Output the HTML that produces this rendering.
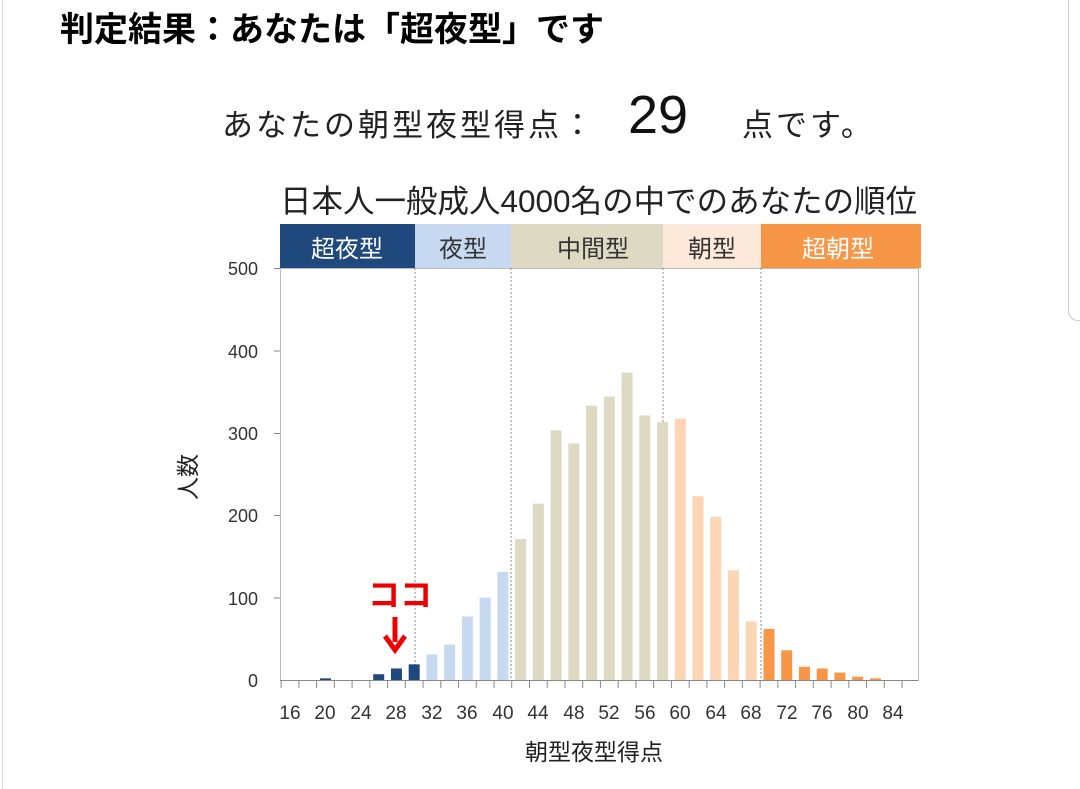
<!DOCTYPE html>
<html><head><meta charset="utf-8">
<style>
html,body{margin:0;padding:0;background:#fff;}
body{width:1080px;height:789px;overflow:hidden;position:relative;font-family:"Liberation Sans","Noto Sans CJK JP",sans-serif;}
.t{position:absolute;white-space:nowrap;color:#000;}
</style></head><body>
<div style="position:absolute;left:2px;top:0;width:1px;height:789px;background:#ddd"></div>
<div style="position:absolute;left:1068px;top:0;width:12px;height:320px;border-left:1px solid #ccc;border-bottom:1px solid #ccc;border-bottom-left-radius:10px"></div>
<div class="t" style="left:60px;top:2px;font-size:34px;font-weight:bold;letter-spacing:0px">判定結果：あなたは「超夜型」です</div>
<div class="t" style="left:222px;top:100px;font-size:31px;letter-spacing:3px;color:#222">あなたの朝型夜型得点：</div>
<div class="t" style="left:628px;top:84px;font-size:54px;color:#111">29</div>
<div class="t" style="left:742px;top:100px;font-size:31px;letter-spacing:3px;color:#222">点です。</div>
<div class="t" style="left:280px;top:176px;font-size:31.5px;color:#222">日本人一般成人4000名の中でのあなたの順位</div>
<svg id="s" width="1080" height="789" style="position:absolute;left:0;top:0" font-family="Liberation Sans, Noto Sans CJK JP, sans-serif">
<rect x="280" y="224" width="135" height="44" fill="#1f497d"/>
<rect x="415" y="224" width="96" height="44" fill="#c6d9f0"/>
<rect x="511" y="224" width="152" height="44" fill="#ddd9c3"/>
<rect x="663" y="224" width="98" height="44" fill="#fde9d9"/>
<rect x="761" y="224" width="160" height="44" fill="#f79646"/>
<g font-size="24" text-anchor="middle">
<text x="347" y="257" fill="#fff">超夜型</text>
<text x="463" y="257" fill="#333">夜型</text>
<text x="593" y="257" fill="#333">中間型</text>
<text x="712" y="257" fill="#333">朝型</text>
<text x="838" y="257" fill="#fff">超朝型</text>
</g>
<rect x="280.5" y="268.5" width="638" height="412" fill="none" stroke="#bbb"/>
<g stroke="#888" stroke-dasharray="2,2">
<line x1="415" y1="268" x2="415" y2="680"/><line x1="511" y1="268" x2="511" y2="680"/>
<line x1="663" y1="268" x2="663" y2="680"/><line x1="761" y1="268" x2="761" y2="680"/>
</g>
<g id="bars"></g>
<line x1="280" y1="680.5" x2="918" y2="680.5" stroke="#888"/>
<g id="ticks" stroke="#888"></g>
<g stroke="#888"><line x1="274" y1="268.5" x2="280" y2="268.5"/><line x1="274" y1="351" x2="280" y2="351"/><line x1="274" y1="433.5" x2="280" y2="433.5"/><line x1="274" y1="515.5" x2="280" y2="515.5"/><line x1="274" y1="598" x2="280" y2="598"/></g>
<g font-size="18" text-anchor="end" fill="#333">
<text x="258" y="275">500</text><text x="258" y="358">400</text><text x="258" y="440">300</text><text x="258" y="522">200</text><text x="258" y="605">100</text><text x="258" y="687">0</text>
</g>
<g font-size="19" text-anchor="middle" fill="#333">
<text x="290" y="719">16</text><text x="325" y="719">20</text><text x="361" y="719">24</text><text x="396" y="719">28</text><text x="432" y="719">32</text><text x="467" y="719">36</text><text x="503" y="719">40</text><text x="538" y="719">44</text><text x="574" y="719">48</text><text x="609" y="719">52</text><text x="645" y="719">56</text><text x="680" y="719">60</text><text x="716" y="719">64</text><text x="751" y="719">68</text><text x="787" y="719">72</text><text x="822" y="719">76</text><text x="858" y="719">80</text><text x="893" y="719">84</text>
</g>
<text x="594" y="760" font-size="23" text-anchor="middle" fill="#222">朝型夜型得点</text>
<text transform="translate(196,477) rotate(-90)" font-size="23" text-anchor="middle" fill="#222">人数</text>
<text x="400" y="606" font-size="32" font-weight="bold" text-anchor="middle" fill="#e00">ココ</text>
<line x1="395" y1="617" x2="395" y2="642" stroke="#e00" stroke-width="5"/>
<polyline points="385,636 395,650 405,636" fill="none" stroke="#e00" stroke-width="5"/>
</svg>
<script>
var d={20:2,26:7,28:14,30:19,32:31,34:43,36:77,38:100,40:131,42:171,44:214,46:303,48:287,50:333,52:344,54:373,56:321,58:313,60:317,62:223,64:198,66:133,68:71,70:62,72:36,74:16,76:14,78:9,80:4,82:2};
var ns="http://www.w3.org/2000/svg",g=document.getElementById("bars"),t=document.getElementById("ticks");
function X(v){return 290+(v-16)*8.87;}
for(var v in d){v=+v;var c=v<=30?"#1f497d":v<=40?"#c6d9f0":v<=58?"#ddd9c3":v<=68?"#fcd5b4":"#f79646";
var r=document.createElementNS(ns,"rect"),h=d[v]*0.824;r.setAttribute("x",X(v)-5.5);r.setAttribute("y",680-h);r.setAttribute("width",11);r.setAttribute("height",h);r.setAttribute("fill",c);g.appendChild(r);}
for(var v=16;v<=86;v+=2){var l=document.createElementNS(ns,"line");var x=X(v)-8.87;l.setAttribute("x1",x);l.setAttribute("x2",x);l.setAttribute("y1",680);l.setAttribute("y2",688);t.appendChild(l);}
</script>
</body></html>
